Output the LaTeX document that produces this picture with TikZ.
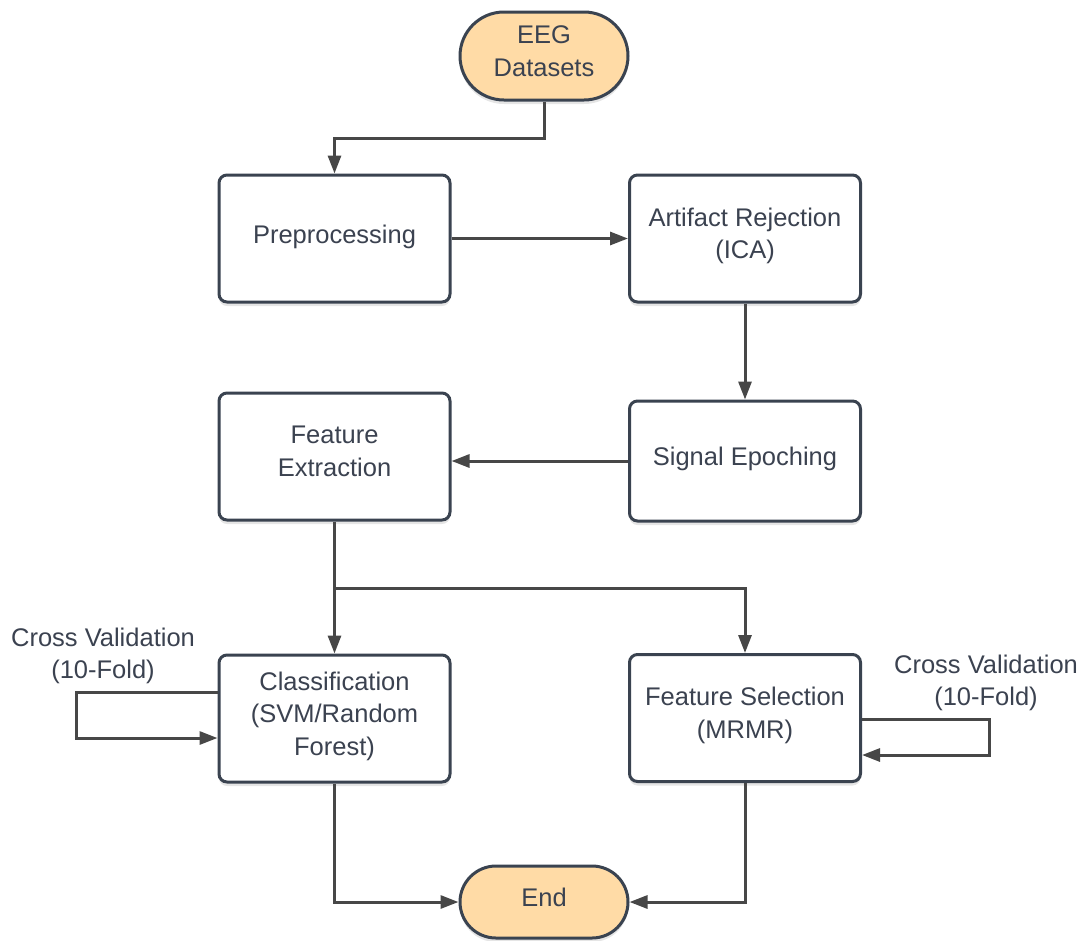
\documentclass[tikz,border=0pt]{standalone}
\usepackage{fontspec}
\setmainfont{Liberation Sans}
\usetikzlibrary{arrows.meta,shapes.misc,shadows}

\definecolor{edgeline}{HTML}{3A4350}
\definecolor{wireline}{HTML}{474747}
\definecolor{peach}{HTML}{FFDBA6}
\definecolor{ink}{HTML}{3B4250}

% invisible strut that fixes the first-line height and last-line depth of box texts
\newcommand\boxstrut{\rule[-10.2pt]{0pt}{30.2pt}}

\tikzset{
  lbl/.style={text=ink, font=\fontsize{25.5}{32.5}\selectfont, align=center},
  struts/.style={execute at begin node=\boxstrut, execute at end node=\boxstrut},
  softshadow/.style={drop shadow={shadow xshift=0pt, shadow yshift=-4pt, opacity=0.10, fill=black}},
  stepbox/.style={lbl, struts, draw=edgeline, line width=3pt, rounded corners=8pt, fill=white,
    minimum width=231pt, minimum height=127pt, inner sep=0pt, softshadow},
  terminal/.style={lbl, struts, draw=edgeline, line width=3pt, rounded rectangle, fill=peach,
    minimum width=168pt, inner sep=0pt, softshadow},
  wire/.style={draw=wireline, line width=3pt, -{Triangle[length=18pt,width=13pt]}}
}

\begin{document}
\begin{tikzpicture}[x=1pt, y=-1pt]
  \useasboundingbox[fill=white] (0,0) rectangle (1083,940);

  % terminals
  \node[terminal, minimum height=88pt] (eeg) at (544,56) {EEG\\Datasets};
  \node[terminal, minimum height=72pt] (fin) at (544,902) {End};

  % processing steps
  \node[stepbox] (pre)  at (334.5,238.5) {Preprocessing};
  \node[stepbox] (art)  at (745,238.5)   {Artifact Rejection\\(ICA)};
  \node[stepbox, minimum height=120pt] (sig) at (745,461) {Signal Epoching};
  \node[stepbox] (fex)  at (334.5,456.5) {Feature\\Extraction};
  \node[stepbox] (cls)  at (334.5,718.5) {Classification\\(SVM/Random\\Forest)};
  \node[stepbox] (fsel) at (745,718)     {Feature Selection\\(MRMR)};

  % loop captions
  \node[lbl] (cvl) at (103,656) {Cross Validation\\(10-Fold)};
  \node[lbl] (cvr) at (986,683) {Cross Validation\\(10-Fold)};

  % main flow
  \draw[wire] (eeg.south) -- ++(0,37) -| (pre.north);
  \draw[wire] (pre.east) -- (art.west);
  \draw[wire] (art.south) -- (sig.north);
  \draw[wire] (sig.west) -- (sig.west -| fex.east);

  % branch after feature extraction
  \coordinate (split) at (334.5,588);
  \draw[wire] (fex.south) -- (cls.north);
  \draw[wire] (split) -| (fsel.north);

  % cross-validation loops
  \draw[wire] ([yshift=26.5pt]cls.west) -- ++(-141,0) -- ++(0,46) -- ([yshift=-19.5pt]cls.west);
  \draw[wire] ([yshift=-1pt]fsel.east) -- ++(127,0) -- ++(0,36) -- ([yshift=-37pt]fsel.east);

  % to the end
  \draw[wire] (cls.south) |- (fin.west);
  \draw[wire] (fsel.south) |- (fin.east);
\end{tikzpicture}
\end{document}
